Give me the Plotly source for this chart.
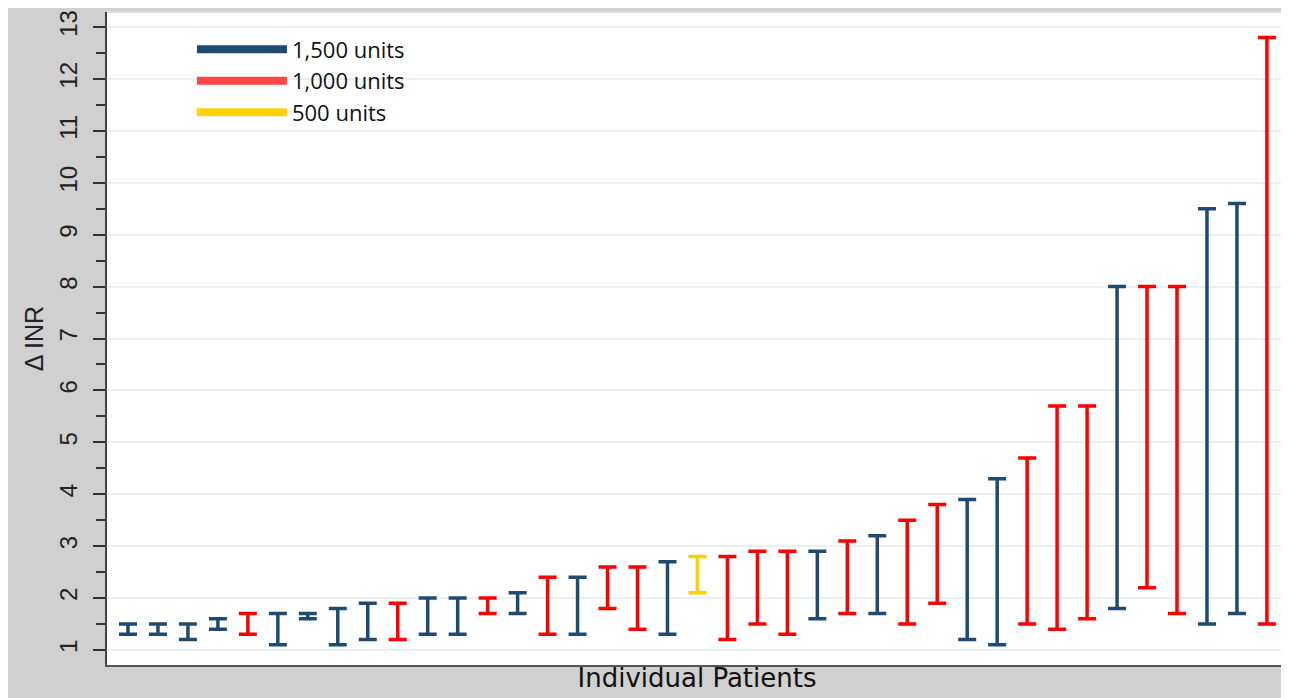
import plotly.graph_objects as go

# ---- data ----
patients = list(range(1, 40))
inr_low = [1.3, 1.3, 1.2, 1.4, 1.3, 1.1, 1.6, 1.1, 1.2, 1.2,
           1.3, 1.3, 1.7, 1.7, 1.3, 1.3, 1.8, 1.4, 1.3, 2.1,
           1.2, 1.5, 1.3, 1.6, 1.7, 1.7, 1.5, 1.9, 1.2, 1.1,
           1.5, 1.4, 1.6, 1.8, 2.2, 1.7, 1.5, 1.7, 1.5]
inr_high = [1.5, 1.5, 1.5, 1.6, 1.7, 1.7, 1.7, 1.8, 1.9, 1.9,
            2.0, 2.0, 2.0, 2.1, 2.4, 2.4, 2.6, 2.6, 2.7, 2.8,
            2.8, 2.9, 2.9, 2.9, 3.1, 3.2, 3.5, 3.8, 3.9, 4.3,
            4.7, 5.7, 5.7, 8.0, 8.0, 8.0, 9.5, 9.6, 12.8]
dose = [1500, 1500, 1500, 1500, 1000, 1500, 1500, 1500, 1500, 1000,
        1500, 1500, 1000, 1500, 1000, 1500, 1000, 1000, 1500, 500,
        1000, 1000, 1000, 1500, 1000, 1500, 1000, 1000, 1500, 1500,
        1000, 1000, 1000, 1500, 1000, 1000, 1500, 1500, 1000]
dose_levels = [1500, 1000, 500]
dose_labels = ["1,500 units", "1,000 units", "500 units"]
bar_colors = {1500: "#1f4a72", 1000: "#ff0000", 500: "#ffd000"}
legend_colors = {1500: "#1f4a72", 1000: "#ff4545", 500: "#ffd20a"}
y_ticks = list(range(1, 14))

fig = go.Figure()

for lvl in dose_levels:
    idx = [i for i, d in enumerate(dose) if d == lvl]
    xs = [patients[i] for i in idx]
    lo = [inr_low[i] for i in idx]
    hi = [inr_high[i] for i in idx]
    fig.add_trace(go.Scatter(
        x=xs, y=lo, mode="markers",
        marker=dict(size=0, opacity=0, color=bar_colors[lvl]),
        error_y=dict(type="data", symmetric=False,
                     array=[h - l for h, l in zip(hi, lo)],
                     arrayminus=[0] * len(lo),
                     color=bar_colors[lvl], thickness=3.5, width=9),
        showlegend=False, hoverinfo="skip"))

for lvl, lab in zip(dose_levels, dose_labels):
    fig.add_trace(go.Scatter(
        x=[None], y=[None], mode="lines", name=lab,
        legendgroup=str(lvl),
        line=dict(color=legend_colors[lvl], width=8)))

# page has an 8px body margin; figure sized to fill the rest of the window
W, H = 1281, 690
ml, mr, mt, mb = 99, 2, 2, 33

fig.update_layout(
    width=W, height=H,
    margin=dict(l=ml, r=mr, t=mt, b=mb),
    paper_bgcolor="#d0d0d0",
    plot_bgcolor="white",
    font=dict(family="Liberation Sans, Arial, sans-serif", color="#1a1a1a"),
    legend=dict(x=0.072, y=0.975, xanchor="left", yanchor="top",
                bgcolor="rgba(0,0,0,0)", itemwidth=90,
                tracegroupgap=0, traceorder="grouped",
                font=dict(family="Open Sans, Noto Sans, sans-serif", size=22, color="#111")),
    xaxis=dict(range=[0.3, 39.67], showticklabels=False, ticks="",
               showgrid=False, zeroline=False,
               showline=True, linecolor="#555", linewidth=2,
               title=dict(text="Individual Patients", standoff=3,
                          font=dict(family="DejaVu Sans, sans-serif", size=26, color="#111"))),
    yaxis=dict(range=[0.71, 13.29], tickvals=y_ticks, tickangle=-90,
               ticks="outside", ticklen=12, tickwidth=2, tickcolor="#333",
               ticklabelstandoff=6,
               minor=dict(dtick=0.5, tick0=0.5, ticks="outside", ticklen=9,
                          tickwidth=2, tickcolor="#333", showgrid=False),
               tickfont=dict(size=24, color="#222"),
               showgrid=True, gridcolor="#e8f0f2", gridwidth=2,
               zeroline=False, showline=True, linecolor="#444", linewidth=2,
               title=dict(text="Δ INR", standoff=5,
                          font=dict(size=25, color="#222"))),
    shapes=[
        dict(type="line", xref="paper", yref="paper",
             x0=0, x1=1, y0=1, y1=1, line=dict(color="#dcdcdc", width=2)),
        dict(type="line", xref="paper", yref="paper",
             x0=1, x1=1, y0=0, y1=1, line=dict(color="#dcdcdc", width=2)),
    ],
)

fig.write_html("out.html")
